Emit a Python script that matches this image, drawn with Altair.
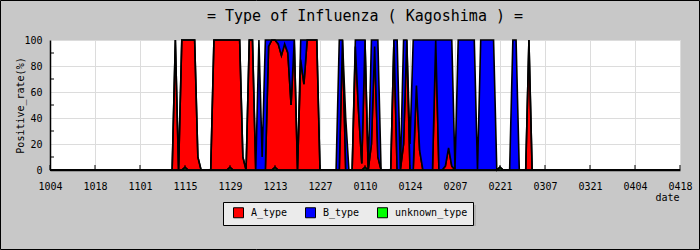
import altair as alt
import pandas as pd

# ---- data (day index 0 = Oct 4, 196 = Apr 18) ----
tick_labels = ["1004", "1018", "1101", "1115", "1129", "1213", "1227",
               "0110", "0124", "0207", "0221", "0307", "0321", "0404", "0418"]
n_days = 196

a_day = [39, 41, 42, 43, 44, 45, 46, 51, 52, 53, 54, 55, 56, 57, 58, 59, 60,
         62, 63, 68, 69, 70, 71, 72, 73, 74, 75, 76, 78, 79, 80, 81, 82, 83,
         91, 95, 96, 97, 98, 100, 101, 102, 107, 110, 111, 114, 115, 120,
         123, 124, 125, 149]
a_pct = [100, 100, 98, 100, 100, 100, 10, 100, 100, 100, 100, 100, 98, 100, 100, 100, 10,
         100, 100, 95, 100, 98, 97, 88, 97, 90, 50, 100, 85, 66, 100, 100, 100, 100,
         100, 95, 45, 5, 98, 20, 95, 10, 100, 20, 100, 65, 15, 100,
         3, 17, 3, 100]

b_day = [65, 66, 67, 68, 71, 72, 73, 74, 75, 78, 79, 90, 92, 95, 96, 97,
         100, 101, 102, 108, 110, 112, 113, 114, 115, 116, 117, 118, 119,
         121, 122, 123, 124, 125, 127, 128, 129, 130, 131, 132,
         134, 135, 136, 137, 138, 144, 145]
b_pct = [100, 10, 100, 5, 3, 12, 3, 10, 50, 15, 34, 100, 40, 5, 55, 95,
         80, 5, 90, 100, 80, 20, 100, 35, 85, 100, 100, 100, 100,
         100, 100, 97, 83, 97, 100, 100, 100, 100, 100, 100,
         100, 100, 100, 100, 100, 100, 100]

u_day = [42, 56, 70, 98, 140]
u_pct = [2, 2, 2, 2, 2]

series = ["A_type", "B_type", "unknown_type"]
colors = ["#FF0000", "#0000FF", "#00FF00"]
stack_rank = {"unknown_type": 0, "A_type": 1, "B_type": 2}

vals = {
    "A_type": dict(zip(a_day, a_pct)),
    "B_type": dict(zip(b_day, b_pct)),
    "unknown_type": dict(zip(u_day, u_pct)),
}
rows = []
for d in range(n_days + 1):
    for s in series:
        rows.append({"day": d, "pct": vals[s].get(d, 0), "type": s,
                     "ord": stack_rank[s]})
df = pd.DataFrame(rows)

tick_vals = list(range(0, n_days + 1, 14))
label_expr = "[" + ",".join("'%s'" % t for t in tick_labels) + "][round(datum.value / 14)]"
y_vals = [0, 20, 40, 60, 80, 100]
minor_y = [10, 30, 50, 70, 90]

FONT = "DejaVu Sans Mono"
W, H = 630, 130

x_axis = alt.Axis(values=tick_vals, labelExpr=label_expr, grid=True,
                  gridColor="#DCDCDC", gridWidth=1,
                  domainColor="black", domainWidth=1.5,
                  ticks=False, tickSize=0, labelPadding=11,
                  labelFont=FONT, labelFontSize=10, labelColor="black",
                  labelFlush=False, labelOverlap=False,
                  title="date", titleFont=FONT, titleFontSize=10,
                  titleFontWeight="normal", titleColor="black",
                  titleAlign="right", titleAnchor="end",
                  titleX=629, titleY=30, titleBaseline="alphabetic")
y_axis = alt.Axis(values=y_vals, grid=True,
                  gridColor="#DCDCDC", gridWidth=1,
                  domainColor="black", domainWidth=1.5,
                  ticks=False, tickSize=0, labelPadding=8,
                  labelFont=FONT, labelFontSize=10, labelColor="black",
                  labelFlush=False, labelOverlap=False,
                  title="Positive_rate(%)", titleFont=FONT,
                  titleFontSize=10, titleFontWeight="normal",
                  titleColor="black", titleAngle=-90,
                  titleX=-30, titleY=65, titleAlign="center",
                  titleBaseline="middle")
x_scale = alt.Scale(domain=[0, n_days], nice=False, zero=False)
y_scale = alt.Scale(domain=[0, 100], nice=False)

area = alt.Chart(df).mark_area(
    interpolate="linear", stroke="black", strokeWidth=1.6, opacity=1
).encode(
    x=alt.X("day:Q", scale=x_scale, axis=x_axis),
    y=alt.Y("pct:Q", stack="zero", scale=y_scale, axis=y_axis),
    color=alt.Color("type:N",
                    scale=alt.Scale(domain=series, range=colors),
                    legend=alt.Legend(title=None, orient="none",
                                      legendX=173, legendY=162,
                                      direction="horizontal",
                                      fillColor="#EBEBEB", strokeColor="black",
                                      padding=5, symbolType="square",
                                      symbolSize=100, symbolStrokeColor="black",
                                      symbolStrokeWidth=1, symbolOpacity=1,
                                      symbolOffset=5,
                                      labelFont=FONT, labelFontSize=10,
                                      labelColor="black", labelOffset=7,
                                      columnPadding=12)),
    order=alt.Order("ord:Q", sort="ascending"),
)

xticks = alt.Chart(pd.DataFrame({"day": tick_vals})).mark_rule(
    color="black", strokeWidth=1
).encode(x=alt.X("day:Q", scale=x_scale, axis=None),
         y=alt.value(H), y2=alt.value(H - 5))

yticks = alt.Chart(pd.DataFrame({"pct": minor_y})).mark_rule(
    color="black", strokeWidth=1
).encode(y=alt.Y("pct:Q", scale=y_scale, axis=None),
         x=alt.value(0), x2=alt.value(4))

one = pd.DataFrame({"k": [0]})
shadow = alt.Chart(one).mark_rect(color="#B2B2B2").encode(
    x=alt.value(176), x2=alt.value(426), y=alt.value(165), y2=alt.value(186))

border = alt.Chart(one).mark_rect(
    fill="transparent", stroke="black", strokeWidth=1
).encode(x=alt.value(-49.5), x2=alt.value(649.5),
         y=alt.value(-39.5), y2=alt.value(209.5))

chart = alt.layer(shadow, area, xticks, yticks, border).resolve_axis(
    x="independent", y="independent"
).properties(
    width=W, height=H,
    autosize=alt.AutoSizeParams(type="none"),
    padding={"left": 50, "top": 40, "right": 20, "bottom": 80},
    title=alt.TitleParams(text="= Type of Influenza ( Kagoshima ) =",
                          font=FONT, fontSize=15, fontWeight="normal",
                          color="black", anchor="middle", offset=0, dy=24),
).configure(background="#C8C8C8").configure_view(stroke="transparent", fill="white")

chart.save("out.html", embed_options={"renderer": "svg", "actions": False})
